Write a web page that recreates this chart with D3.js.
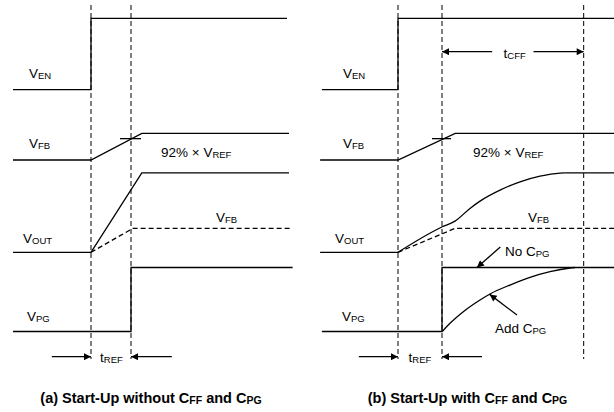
<!DOCTYPE html>
<html><head><meta charset="utf-8">
<script src="https://cdn.jsdelivr.net/npm/d3@7"></script>
<style>body{margin:0;background:#fff}svg{display:block}</style>
</head><body><svg id="c" width="614" height="412"></svg>
<script>
// Time in units of tREF (0 = enable edge, 1 = end of tREF); level 0 = low, 1 = high
const venA = [[-1.95,0],[0,0],[0,1],[4.9,1]];
const vfbA = [[-1.95,0],[0,0],[1.27,1],[4.95,1]];
const voutA = [[-1.95,0],[0,0],[1.27,1],[4.95,1]];
const vfbDashA = [[0,0],[1.05,1],[4.97,1]];
const vpgA = [[-1.95,0],[1,0],[1,1],[5.04,1]];
const markersA = [0,1];
const trefArrowsA = [[-0.98,0],[2.02,1]];

const venB = [[-1.73,0],[0,0],[0,1],[4.95,1]];
const vfbB = [[-1.77,0],[0,0],[1.3,1],[4.95,1]];
const voutFlatB = [[-1.77,0],[0,0]];
const voutRiseB = [[0,0],[1.007,0.321],[1.295,0.392],[1.636,0.552],[1.864,0.644],[2.318,0.782],[2.773,0.886],[3.227,0.957],[3.682,0.997],[3.8,1]];
const voutHighB = [[3.8,1],[4.95,1]];
const vfbDashB = [[0,0],[1.3,1],[4.95,1]];
const vpgNoCpgB = [[-1.73,0],[1,0],[1,1],[4.95,1]];
const vpgAddCpgB = [[1.007,0],[1.182,0.128],[1.484,0.309],[1.864,0.492],[2.091,0.586],[2.545,0.726],[3.0,0.846],[3.455,0.935],[3.909,0.992],[4.023,1]];
const markersB = [0,1,4.22];
const trefArrowsB = [[-0.89,0],[1.91,1]];
const tcffArrowsB = [[2.14,1],[3.08,4.22]];
const vfbThreshold = 0.8;

const signalLabels = [["V","EN"],["V","FB"],["V","OUT"],["V","PG"]];
const titleA = [["(a) Start-Up without C","FF"],[" and C","PG"]];
const titleB = [["(b) Start-Up with C","FF"],[" and C","PG"]];

const svg = d3.select("#c");
const FONT = "'Liberation Sans', Arial, sans-serif";

const defs = svg.append("defs");
defs.append("marker").attr("id","ah").attr("viewBox","0 0 10 10")
  .attr("refX",10).attr("refY",5).attr("markerWidth",9).attr("markerHeight",7)
  .attr("markerUnits","userSpaceOnUse").attr("orient","auto")
  .append("path").attr("d","M0,0L10,5L0,10z").attr("fill","#000");

const rows = {
  EN: d3.scaleLinear().domain([0,1]).range([89.7,18.3]),
  FB: d3.scaleLinear().domain([0,1]).range([160,133.3]),
  OUT: d3.scaleLinear().domain([0,1]).range([252.3,172.8]),
  FBD: d3.scaleLinear().domain([0,1]).range([252.3,228.3]),
  PG: d3.scaleLinear().domain([0,1]).range([331.5,267.5])
};

function rich(g, x, y, parts, size, subSize, weight, anchor){
  const t = g.append("text").attr("x",x).attr("y",y)
    .attr("font-family",FONT).attr("font-size",size).attr("fill","#000")
    .attr("font-weight",weight||"normal").attr("text-anchor",anchor||"start");
  let shifted = false;
  parts.forEach(p=>{
    t.append("tspan").text(p[0]).attr("font-size",size).attr("dy",shifted?-1:0);
    t.append("tspan").text(p[1]).attr("font-size",subSize).attr("dy",1);
    shifted = true;
  });
  return t;
}
const lbl = (g,x,y,main,sub) => rich(g,x,y,[[main,sub]],13.5,9.5);

function panel(cfg){
  const x = d3.scaleLinear().domain([0,1]).range(cfg.range);
  const g = svg.append("g");
  const draw = (pts,row,curve,dashed) => g.append("path")
    .attr("d", d3.line().x(d=>x(d[0])).y(d=>rows[row](d[1])).curve(curve||d3.curveLinear)(pts))
    .attr("fill","none").attr("stroke","#000").attr("stroke-width",1.3)
    .attr("stroke-dasharray",dashed?"5,3":null);
  cfg.markers.forEach(m=>{
    g.append("line").attr("x1",x(m)).attr("x2",x(m)).attr("y1",5).attr("y2",359)
      .attr("stroke","#000").attr("stroke-width",1).attr("stroke-dasharray","5,3");
  });
  cfg.traces.forEach(tr=>draw(tr.pts,tr.row,tr.curve,tr.dashed));
  const yT = rows.FB(vfbThreshold);
  g.append("line").attr("x1",x(1)-cfg.tick[0]).attr("x2",x(1)+cfg.tick[1])
    .attr("y1",yT).attr("y2",yT).attr("stroke","#000").attr("stroke-width",1.3);
  cfg.arrows.forEach(a=>{
    g.append("line").attr("x1",x(a.seg[0])).attr("x2",x(a.seg[1]))
      .attr("y1",a.y).attr("y2",a.y).attr("stroke","#000").attr("stroke-width",1.3)
      .attr("marker-end","url(#ah)");
  });
  signalLabels.forEach((s,i)=>lbl(g,cfg.labelX[i],cfg.labelY[i],s[0],s[1]));
  lbl(g,cfg.pctX,157,"92% \u00D7 V","REF");
  lbl(g,cfg.vfbX,222,"V","FB");
  lbl(g,cfg.trefX,362,"t","REF");
  rich(g,cfg.titleX,403,cfg.title,14.5,10.5,"bold","middle");
  return {g,x};
}

panel({
  range:[91,131], markers:markersA,
  traces:[
    {pts:venA,row:"EN"},{pts:vfbA,row:"FB"},{pts:voutA,row:"OUT"},
    {pts:vfbDashA,row:"FBD",dashed:true},{pts:vpgA,row:"PG"}
  ],
  tick:[11,10],
  arrows:trefArrowsA.map(s=>({seg:s,y:356.7})),
  labelX:[29,29,23,27], labelY:[78,148,243,321],
  pctX:161, vfbX:216, trefX:100, titleX:151, title:titleA
});

const pb = panel({
  range:[398,442], markers:markersB,
  traces:[
    {pts:venB,row:"EN"},{pts:vfbB,row:"FB"},
    {pts:voutFlatB,row:"OUT"},{pts:voutRiseB,row:"OUT",curve:d3.curveMonotoneX},{pts:voutHighB,row:"OUT"},
    {pts:vfbDashB,row:"FBD",dashed:true},
    {pts:vpgNoCpgB,row:"PG"},{pts:vpgAddCpgB,row:"PG",curve:d3.curveMonotoneX}
  ],
  tick:[10,9],
  arrows:trefArrowsB.map(s=>({seg:s,y:356.7})).concat(tcffArrowsB.map(s=>({seg:s,y:51.7}))),
  labelX:[343,343,335,342], labelY:[78,148,243,321],
  pctX:473, vfbX:528, trefX:408.5, titleX:467.5, title:titleB
});
{
  const {g,x} = pb;
  lbl(g,503.5,57.5,"t","CFF");
  lbl(g,505,256,"No C","PG");
  lbl(g,495,333,"Add C","PG");
  const ann = [
    {from:[2.325,1.32],to:[1.795,1.0]},
    {from:[2.705,0.257],to:[2.084,0.58]}
  ];
  ann.forEach(a=>g.append("line")
    .attr("x1",x(a.from[0])).attr("y1",rows.PG(a.from[1]))
    .attr("x2",x(a.to[0])).attr("y2",rows.PG(a.to[1]))
    .attr("stroke","#000").attr("stroke-width",1.3).attr("marker-end","url(#ah)"));
}
</script></body></html>
